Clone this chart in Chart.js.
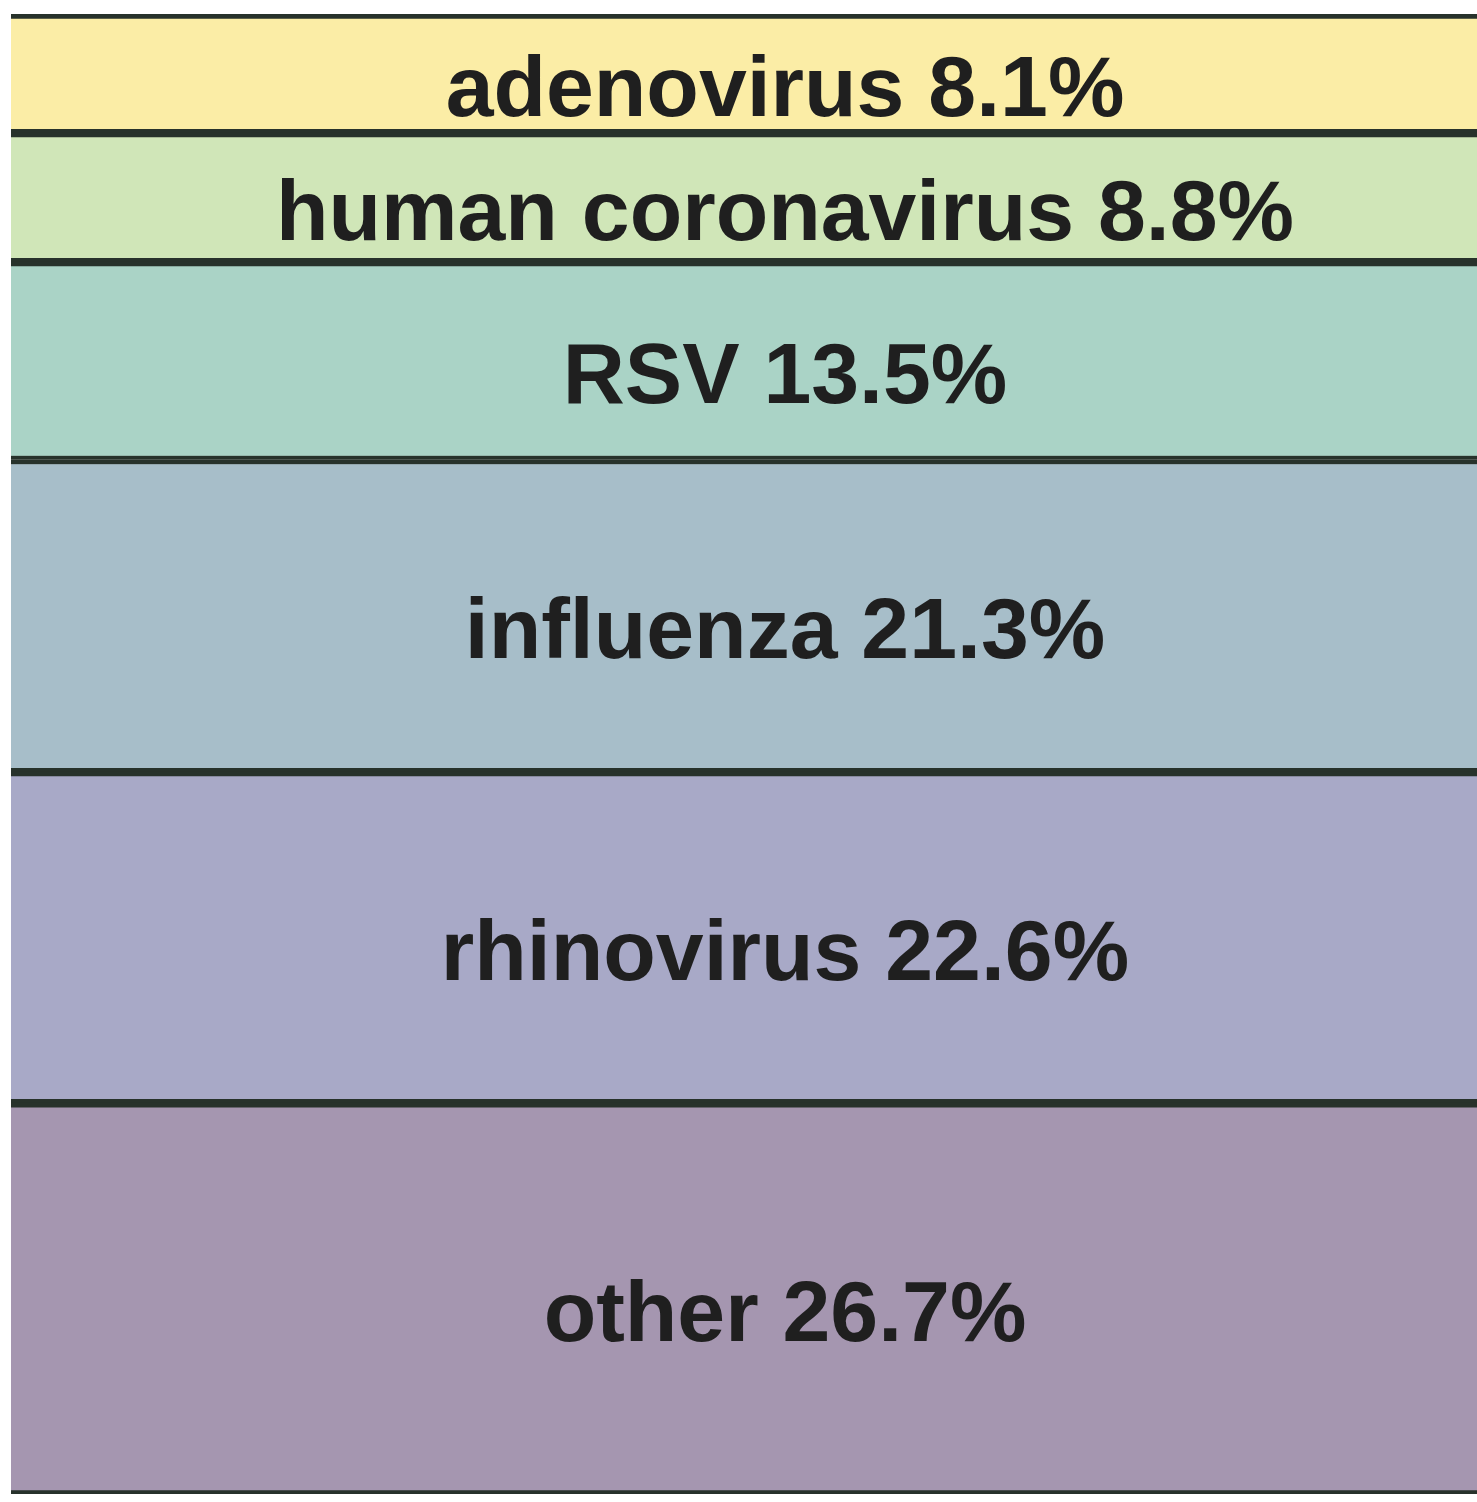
<!DOCTYPE html>
<html>
<head>
<meta charset="utf-8">
<script src="https://cdn.jsdelivr.net/npm/chart.js@4"></script>
<style>
  body { margin: 0; background: #fff; }
  #chart { display: block; }
</style>
</head>
<body>
<canvas id="chart" width="1477" height="1502"></canvas>
<script>
// top to bottom, as drawn
const viruses = ["adenovirus", "human coronavirus", "RSV", "influenza", "rhinovirus", "other"];
const shares = [8.1, 8.8, 13.5, 21.3, 22.6, 26.7];
const fills = ["#fbeda6", "#d0e6b8", "#aad3c6", "#a7bec9", "#a8a9c7", "#a596b0"];

const total = shares.reduce((a, b) => a + b, 0);

// stacked bars start from the bottom, so reverse
const datasets = viruses.map((name, i) => ({
    label: name,
    data: [shares[i]],
    backgroundColor: fills[i],
    borderColor: "#27322b",
    borderWidth: { top: 5, bottom: 4, left: 0, right: 0 },
    borderSkipped: false,
    barPercentage: 1,
    categoryPercentage: 1
})).reverse();

// text in the middle of each segment (a bit right of centre, like the original)
const segmentLabels = {
    id: "segmentLabels",
    afterDatasetsDraw(chart) {
        const ctx = chart.ctx;
        ctx.save();
        ctx.font = "bold 86px 'Liberation Sans', Arial, sans-serif";
        ctx.fillStyle = "#1f1f1f";
        ctx.textAlign = "center";
        ctx.textBaseline = "middle";
        chart.data.datasets.forEach((ds, i) => {
            const bar = chart.getDatasetMeta(i).data[0];
            const mid = (bar.y + bar.base) / 2;
            ctx.fillText(ds.label + " " + ds.data[0].toFixed(1) + "%", bar.x + 41, mid + 19);
        });
        ctx.restore();
    }
};

new Chart(document.getElementById("chart"), {
    type: "bar",
    data: {
        labels: [""],
        datasets: datasets
    },
    options: {
        responsive: false,
        animation: false,
        layout: {
            padding: { left: 11, right: 0, top: 14, bottom: 8 }
        },
        scales: {
            x: { stacked: true, display: false },
            y: { stacked: true, display: false, min: 0, max: total }
        },
        plugins: {
            legend: { display: false },
            tooltip: { enabled: false }
        }
    },
    plugins: [segmentLabels]
});
</script>
</body>
</html>
